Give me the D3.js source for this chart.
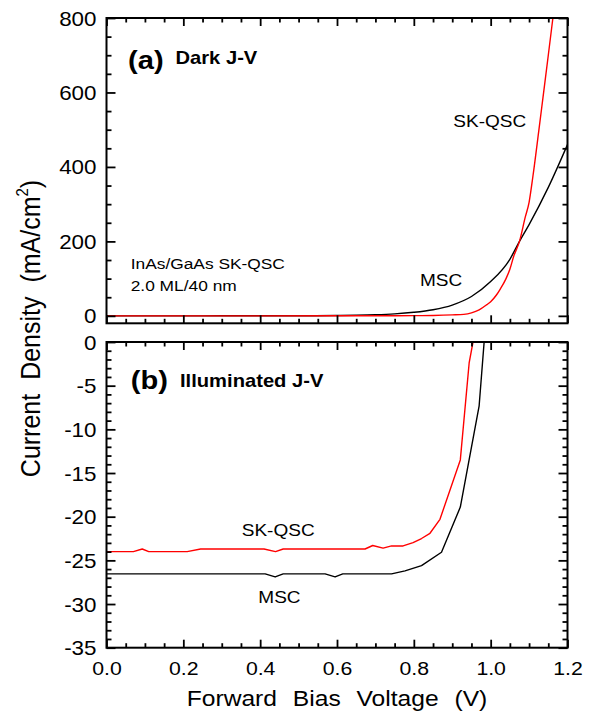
<!DOCTYPE html>
<html><head><meta charset="utf-8">
<script src="https://cdn.jsdelivr.net/npm/d3@7/dist/d3.min.js"></script>
<style>body{margin:0;background:#fff}svg{display:block}</style>
</head><body><svg id="c" width="592" height="713"></svg>
<script>
// ---- data ----
const voltTicks = [0, 0.2, 0.4, 0.6, 0.8, 1.0, 1.2];
const voltTickLabels = ["0.0", "0.2", "0.4", "0.6", "0.8", "1.0", "1.2"];
const darkTicks = [0, 200, 400, 600, 800];
const darkTickLabels = ["0", "200", "400", "600", "800"];
const illumTicks = [0, -5, -10, -15, -20, -25, -30, -35];
const illumTickLabels = ["0", "-5", "-10", "-15", "-20", "-25", "-30", "-35"];

// (a) dark J-V (mA/cm2)
const darkMscV = [0, 0.1, 0.2, 0.3, 0.4, 0.5, 0.6, 0.65, 0.7, 0.75, 0.8, 0.85, 0.9, 0.95, 1.0, 1.05, 1.075, 1.1, 1.15, 1.2];
const darkMscJ = [0, 0, 0.05, 0.1, 0.15, 0.3, 0.8, 1.5, 2.8, 5.2, 9.5, 16.5, 29, 52, 92, 152, 200, 245, 345, 460];
const darkQscV = [0, 0.2, 0.4, 0.6, 0.7, 0.8, 0.85, 0.9, 0.93, 0.95, 0.97, 0.99, 1.0, 1.015, 1.025, 1.04, 1.05, 1.06, 1.075, 1.09, 1.1, 1.11, 1.125, 1.136, 1.15, 1.162, 1.17];
const darkQscJ = [0, 0, 0, 0.1, 0.2, 0.5, 1, 2.5, 4, 8, 16, 30, 38, 56, 72, 100, 125, 160, 200, 265, 305, 375, 495, 585, 700, 800, 865];

// (b) illuminated J-V (mA/cm2)
const illMscV = [0, 0.413, 0.439, 0.46, 0.569, 0.595, 0.615, 0.742, 0.777, 0.82, 0.872, 0.921, 0.97, 0.983];
const illMscJ = [-26.55, -26.55, -26.9, -26.55, -26.55, -26.9, -26.55, -26.55, -26.2, -25.6, -24.07, -18.9, -7.3, 0];
const illQscV = [0, 0.07, 0.093, 0.11, 0.21, 0.245, 0.41, 0.44, 0.46, 0.673, 0.693, 0.72, 0.742, 0.772, 0.798, 0.82, 0.842, 0.868, 0.921, 0.944, 0.954];
const illQscJ = [-24, -24, -23.7, -24, -24, -23.7, -23.7, -24, -23.7, -23.7, -23.3, -23.6, -23.35, -23.35, -22.97, -22.5, -21.9, -20.3, -13.5, -2.4, 0];

// ---- layout ----
const SX = 1.12; // horizontal text stretch seen in the reference
const FONT = "'Liberation Sans', Arial, Helvetica, sans-serif";
const L = 106.5, R = 567.5;
const topP = {y0: 18, y1: 323.3};
const botP = {y0: 342, y1: 647.7};

const svg = d3.select("#c");
const x = d3.scaleLinear().domain([0, 1.2]).range([L, R]);
const yA = d3.scaleLinear().domain([-20, 800]).range([topP.y1, topP.y0]);
const yB = d3.scaleLinear().domain([-35, 0]).range([botP.y1, botP.y0]);

const defs = svg.append("defs");
function clip(id, p) {
  defs.append("clipPath").attr("id", id).append("rect")
    .attr("x", L).attr("y", p.y0).attr("width", R - L).attr("height", p.y1 - p.y0);
}
clip("clipA", topP); clip("clipB", botP);

function stext(g, px, py, str, size, opts = {}) {
  const t = g.append("text")
    .attr("transform", `translate(${px},${py}) scale(${SX},1)` + (opts.rotate ? ` rotate(${opts.rotate})` : ""))
    .attr("font-family", FONT).attr("font-size", size)
    .attr("font-weight", opts.bold ? "bold" : "normal")
    .attr("text-anchor", opts.anchor || "start")
    .attr("fill", "#000");
  if (opts.wordSpacing) t.attr("word-spacing", opts.wordSpacing);
  return t.text(str);
}

const xMinor = d3.range(0, 24.5, 1).map(i => i * 0.05).filter(v => !voltTicks.some(m => Math.abs(m - v) < 1e-6));
const aMinor = d3.range(0, 801, 50).filter(v => v % 200 !== 0);
const bMinor = d3.range(0, -35.5, -1).filter(v => v % 5 !== 0);

function styleAxis(g) {
  g.select(".domain").remove();
  g.selectAll("line").attr("stroke", "#000").attr("stroke-width", 1.8);
  g.attr("font-family", FONT);
}

function drawAxes(y, p, majorY, majorYLabels, minorY, showX) {
  const ax = svg.append("g");
  // bottom
  const gb1 = ax.append("g").attr("transform", `translate(0,${p.y1})`)
    .call(d3.axisBottom(x).tickValues(xMinor).tickSize(-4.5).tickSizeOuter(0).tickFormat(""));
  styleAxis(gb1);
  const gb2 = ax.append("g").attr("transform", `translate(0,${p.y1})`)
    .call(d3.axisBottom(x).tickValues(voltTicks).tickSize(-8).tickSizeOuter(0).tickPadding(13.8)
      .tickFormat((d, i) => showX ? voltTickLabels[i] : ""));
  styleAxis(gb2);
  gb2.selectAll("text").attr("font-size", 19).attr("fill", "#000")
    .attr("transform", `scale(${SX},1)`)
    .attr("x", 0);
  // top
  styleAxis(ax.append("g").attr("transform", `translate(0,${p.y0})`)
    .call(d3.axisTop(x).tickValues(xMinor).tickSize(-4.5).tickSizeOuter(0).tickFormat("")));
  styleAxis(ax.append("g").attr("transform", `translate(0,${p.y0})`)
    .call(d3.axisTop(x).tickValues(voltTicks).tickSize(-8).tickSizeOuter(0).tickFormat("")));
  // left
  styleAxis(ax.append("g").attr("transform", `translate(${L},0)`)
    .call(d3.axisLeft(y).tickValues(minorY).tickSize(-5).tickSizeOuter(0).tickFormat("")));
  const gl = ax.append("g").attr("transform", `translate(${L},0)`)
    .call(d3.axisLeft(y).tickValues(majorY).tickSize(-9).tickSizeOuter(0).tickPadding(10)
      .tickFormat((d, i) => majorYLabels[i]));
  styleAxis(gl);
  gl.selectAll("text").attr("font-size", 20).attr("fill", "#000")
    .attr("transform", `scale(${SX},1)`).attr("x", -10 / SX).attr("dy", "0.35em");
  // right
  styleAxis(ax.append("g").attr("transform", `translate(${R},0)`)
    .call(d3.axisRight(y).tickValues(minorY).tickSize(-5).tickSizeOuter(0).tickFormat("")));
  styleAxis(ax.append("g").attr("transform", `translate(${R},0)`)
    .call(d3.axisRight(y).tickValues(majorY).tickSize(-9).tickSizeOuter(0).tickFormat("")));
  // frame
  svg.append("rect").attr("x", L).attr("y", p.y0).attr("width", R - L).attr("height", p.y1 - p.y0)
    .attr("fill", "none").attr("stroke", "#000").attr("stroke-width", 2);
}

function curve(vs, js, y, clipId, color, smooth) {
  const line = d3.line().x(d => x(d[0])).y(d => y(d[1]));
  if (smooth) line.curve(d3.curveMonotoneX);
  svg.append("path").datum(vs.map((v, i) => [v, js[i]]))
    .attr("clip-path", `url(#${clipId})`)
    .attr("d", line).attr("fill", "none").attr("stroke", color).attr("stroke-width", 1.4)
    .attr("stroke-linejoin", "round");
}

// panel (a)
curve(darkMscV, darkMscJ, yA, "clipA", "#000000", true);
curve(darkQscV, darkQscJ, yA, "clipA", "#ff0000", true);
drawAxes(yA, topP, darkTicks, darkTickLabels, aMinor, false);

// panel (b)
curve(illMscV, illMscJ, yB, "clipB", "#000000", false);
curve(illQscV, illQscJ, yB, "clipB", "#ff0000", false);
drawAxes(yB, botP, illumTicks, illumTickLabels, bMinor, true);

// annotations
const ann = svg.append("g");
stext(ann, 128, 68.5, "(a)", 26, {bold: true});
stext(ann, 175.5, 63.5, "Dark J-V", 18, {bold: true});
stext(ann, 453.3, 127.3, "SK-QSC", 17);
stext(ann, 420, 286, "MSC", 17);
stext(ann, 130.7, 269.3, "InAs/GaAs SK-QSC", 15.5);
stext(ann, 130.7, 290.5, "2.0 ML/40 nm", 15.5);

stext(ann, 130.7, 389, "(b)", 26, {bold: true});
stext(ann, 180, 386.7, "Illuminated J-V", 18, {bold: true});
stext(ann, 241.7, 536, "SK-QSC", 17);
stext(ann, 258.3, 603.3, "MSC", 17);

// axis titles
stext(ann, 337, 706, "Forward Bias Voltage (V)", 22, {anchor: "middle", wordSpacing: 8});
const yt = stext(ann, 39.5, 328.5, "", 25, {anchor: "middle", rotate: -90, wordSpacing: 7});
yt.append("tspan").text("Current Density (mA/cm");
yt.append("tspan").attr("font-size", 15).attr("dy", -10).text("2");
yt.append("tspan").attr("dy", 10).text(")");
</script>
</body></html>
